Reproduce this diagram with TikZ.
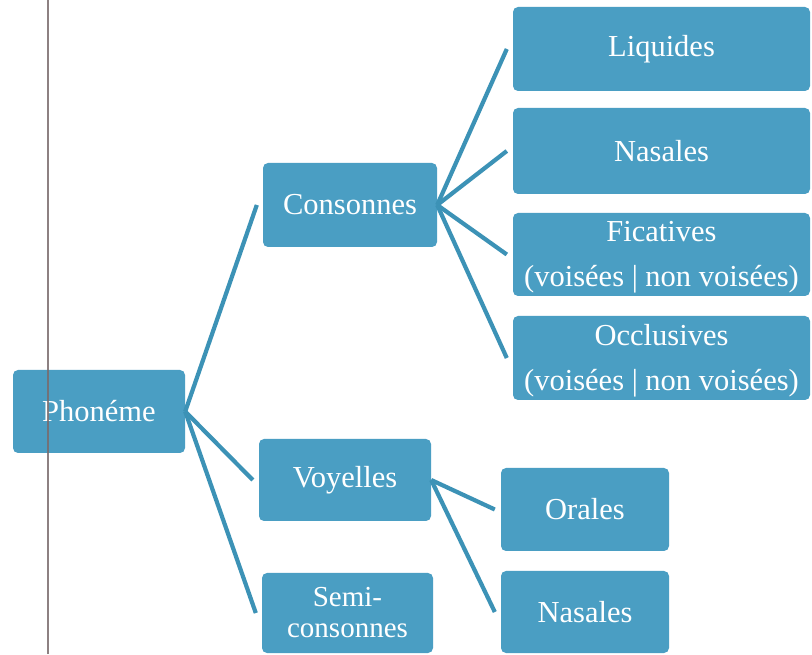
\documentclass[tikz,border=0pt]{standalone}
\usepackage{fontspec}
\setmainfont{Liberation Serif}
\definecolor{boxblue}{HTML}{4A9EC3}
\definecolor{linkblue}{HTML}{3C92B6}
\definecolor{marginline}{HTML}{7A6B6D}
\begin{document}
\begin{tikzpicture}[x=1pt,y=1pt,
  box/.style={fill=boxblue, rounded corners=5pt, text=white, inner sep=0pt,
    align=center, font=\fontsize{30.5}{46}\selectfont},
  wide/.style={box, minimum width=297pt},
  twoline/.style={font=\fontsize{30.5}{45}\selectfont, yshift=-3pt},
  link/.style={draw=linkblue, line width=4.2pt}]
\useasboundingbox (0,0) rectangle (812,654);
\fill[white] (0,0) rectangle (812,654);

% level 0
\node[box, minimum width=172pt, minimum height=83pt] (phon) at (99,242.5) {Phonéme};

% level 1
\node[box, minimum width=174pt, minimum height=84pt] (cons) at (350,449) {Consonnes};
\node[box, minimum width=172pt, minimum height=82pt] (voy) at (345,174) {Voyelles};
\node[box, minimum width=171pt, minimum height=80pt,
      font=\fontsize{29}{31}\selectfont] (semi) at (347.5,41) {Semi-\\consonnes};

% consonant classes
\node[wide, minimum height=84pt] (liq) at (661.5,605) {Liquides};
\node[wide, minimum height=86pt] (nasc) at (661.5,503) {Nasales};
\node[wide, minimum height=83pt] (fic) at (661.5,399.5) {};
\node[wide, minimum height=84pt] (occ) at (661.5,296) {};
\node[twoline, text=white, align=center, inner sep=0pt] (fict) at (fic) {Ficatives\\(voisées | non voisées)};
\node[twoline, text=white, align=center, inner sep=0pt] (occt) at (occ) {Occlusives\\(voisées | non voisées)};

% vowel classes
\node[box, minimum width=168pt, minimum height=83pt] (ora) at (585,144.5) {Orales};
\node[box, minimum width=168pt, minimum height=82pt] (nasv) at (585,42) {Nasales};

% connectors
\foreach \a/\b in {phon/cons, phon/voy, phon/semi,
                   cons/liq, cons/nasc, cons/fic, cons/occ,
                   voy/ora, voy/nasv}
  \draw[link] (\a.east) -- ([xshift=-6pt]\b.west);

% ruled margin of the page
\draw[marginline, line width=1.6pt, opacity=0.85] (48,0) -- (48,654);
\end{tikzpicture}
\end{document}
